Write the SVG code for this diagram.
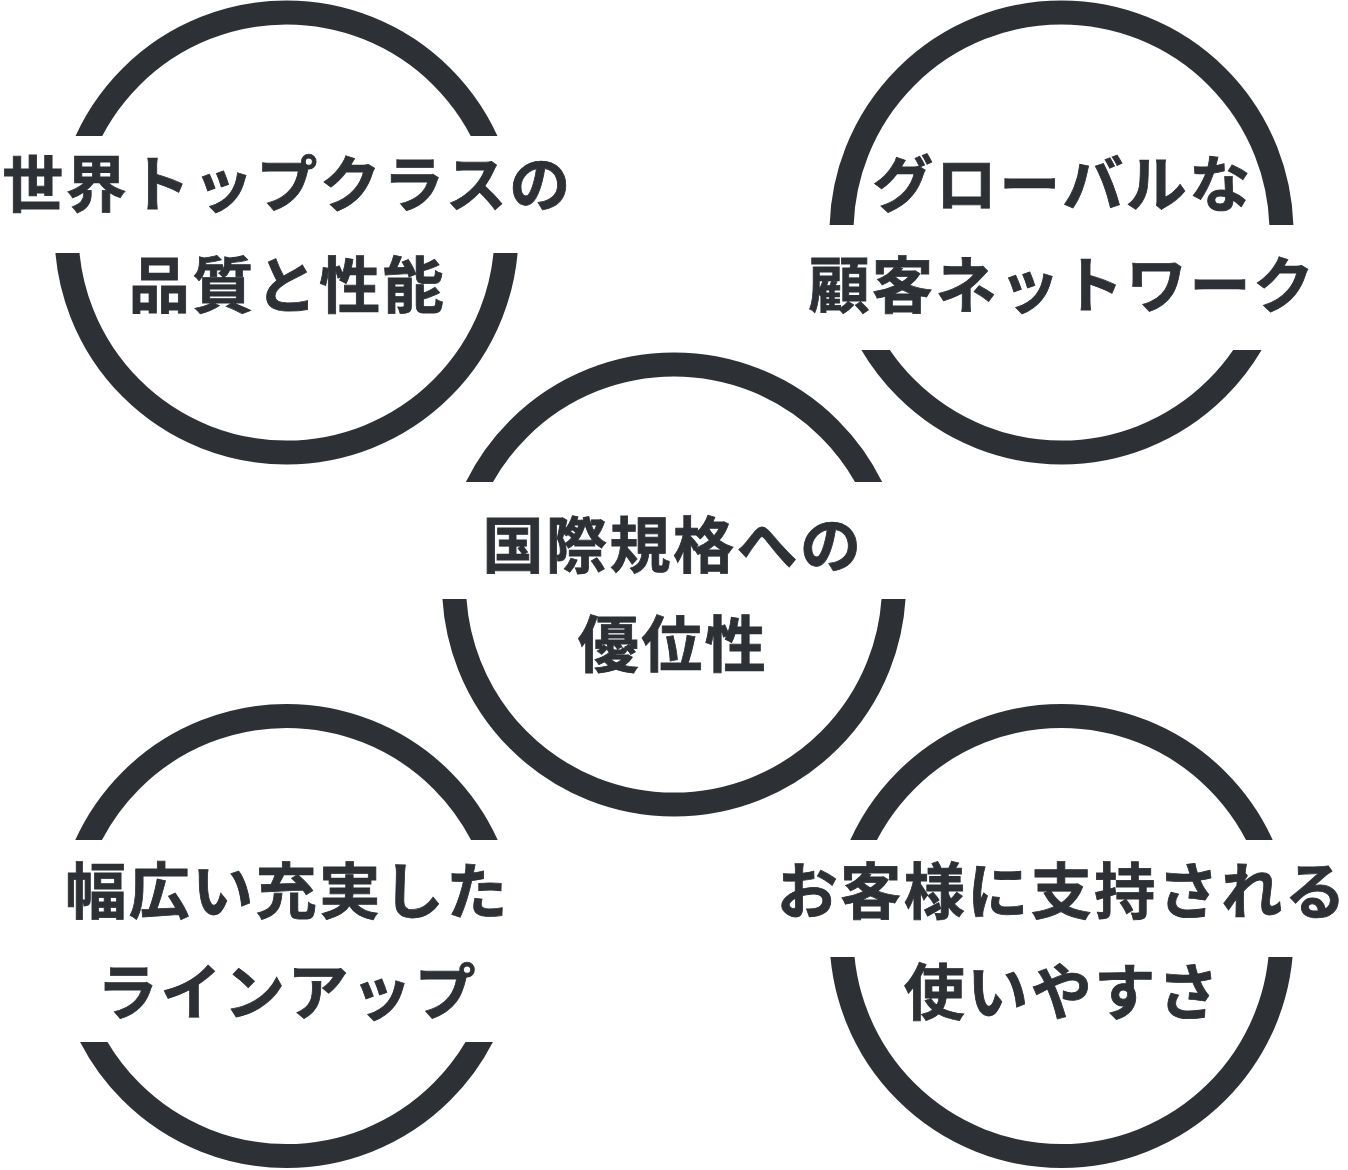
<svg xmlns="http://www.w3.org/2000/svg" width="1348" height="1170" viewBox="0 0 1348 1170">
  <style>
    .ring { fill: none; stroke: #2d3035; stroke-width: 24; }
    .lbl { font-family: "Noto Sans CJK JP", "Noto Sans", sans-serif; font-weight: 700; font-size: 61px; fill: #2d3035; stroke: #2d3035; stroke-width: 0.8; text-anchor: middle; letter-spacing: 2.5px; }
  </style>
  <defs>
    <clipPath id="clip1"><rect x="0" y="0" width="1348" height="136"/><rect x="0" y="253" width="1348" height="917"/></clipPath>
    <clipPath id="clip2"><rect x="0" y="0" width="1348" height="225"/><rect x="0" y="350" width="1348" height="820"/></clipPath>
    <clipPath id="clip3"><rect x="0" y="0" width="1348" height="482"/><rect x="0" y="599" width="1348" height="571"/></clipPath>
    <clipPath id="clip4"><rect x="0" y="0" width="1348" height="840"/><rect x="0" y="1042" width="1348" height="128"/></clipPath>
    <clipPath id="clip5"><rect x="0" y="0" width="1348" height="840"/><rect x="0" y="957" width="1348" height="213"/></clipPath>
  </defs>
  <rect x="0" y="0" width="1348" height="1170" fill="#ffffff"/>
  <g id="node-quality">
    <circle class="ring" cx="286.5" cy="232.5" r="220" clip-path="url(#clip1)"/>
    <text class="lbl" x="287.5" y="207">世界トップクラスの</text>
    <text class="lbl" x="287.5" y="308">品質と性能</text>
  </g>
  <g id="node-network">
    <circle class="ring" cx="1061.5" cy="232.5" r="220" clip-path="url(#clip2)"/>
    <text class="lbl" x="1062.5" y="207">グローバルな</text>
    <text class="lbl" x="1062.5" y="308">顧客ネットワーク</text>
  </g>
  <g id="node-standard">
    <circle class="ring" cx="674" cy="584.5" r="220" clip-path="url(#clip3)"/>
    <text class="lbl" x="673" y="568">国際規格への</text>
    <text class="lbl" x="673" y="667">優位性</text>
  </g>
  <g id="node-lineup">
    <circle class="ring" cx="286.5" cy="936" r="220" clip-path="url(#clip4)"/>
    <text class="lbl" x="287.5" y="914">幅広い充実した</text>
    <text class="lbl" x="287.5" y="1015">ラインアップ</text>
  </g>
  <g id="node-usability">
    <circle class="ring" cx="1061.5" cy="936" r="220" clip-path="url(#clip5)"/>
    <text class="lbl" x="1062.5" y="914">お客様に支持される</text>
    <text class="lbl" x="1062.5" y="1015">使いやすさ</text>
  </g>
</svg>
